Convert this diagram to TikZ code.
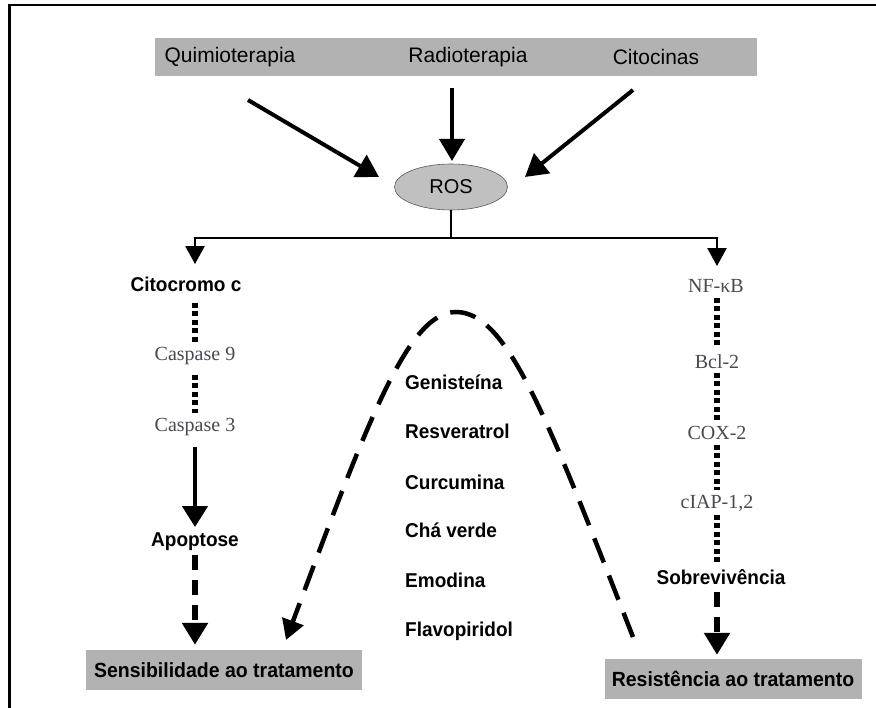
\documentclass[tikz,border=0pt]{standalone}
\usepackage{fontspec}
\setmainfont{Liberation Sans}
\newfontfamily\sansN[FakeStretch=0.95]{Liberation Sans}
\newfontfamily\serifx{Liberation Serif}
\usetikzlibrary{arrows.meta,shapes.geometric,calc}
\definecolor{barg}{RGB}{178,178,178}
\definecolor{rosg}{RGB}{192,192,192}
\definecolor{sertxt}{RGB}{72,72,82}
\begin{document}
\begin{tikzpicture}[x=1pt,y=-1pt,
  toplbl/.style={font=\fontsize{21}{24}\selectfont, inner sep=2pt},
  fixh/.style={text height=13.5pt, text depth=0pt, inner sep=0pt},
  sanslbl/.style={fixh, font=\sansN\fontsize{20}{23}\selectfont\bfseries},
  serlbl/.style={fixh, font=\fontsize{20}{23}\selectfont\serifx, text=sertxt},
  drug/.style={font=\sansN\fontsize{20}{23}\selectfont\bfseries, anchor=west, inner sep=0pt},
  greybox/.style={fill=barg, draw=none},
  toparrow/.style={line width=4pt, -{Triangle[length=22pt,width=25pt]}},
  forkline/.style={line width=2.5pt},
  forkarrow/.style={line width=2.5pt, -{Triangle[length=18pt,width=19pt]}},
  solidarrow/.style={line width=4.5pt, -{Triangle[length=21pt,width=25pt]}},
  dasharrow/.style={line width=6pt, dash pattern=on 15pt off 10pt, -{Triangle[length=22pt,width=25pt]}},
  dotline/.style={line width=6pt, dash pattern=on 5pt off 3.5pt},
  arcline/.style={line width=4.5pt, dash pattern=on 26pt off 14pt, -{Triangle[length=20pt,width=22pt]}}
]
\useasboundingbox (0,0) rectangle (876,708);
% frame
\draw[line width=2.8pt] (9.5,708) -- (9.5,5) -- (876,5);

% top bar
\node[greybox, minimum width=602pt, minimum height=38pt, inner sep=0pt] (topbar) at (456,57) {};
\node[toplbl] (quimio) at (230,57) {Quimioterapia};
\node[toplbl] (radio) at (468,57) {Radioterapia};
\node[toplbl] (citoc) at (656,57) {Citocinas};

% ROS
\node[ellipse, fill=rosg, draw=gray!70!black, line width=0.6pt, minimum width=113pt, minimum height=46pt, inner sep=0pt,
      font=\fontsize{20}{23}\selectfont] (ros) at (451,187) {ROS};

\coordinate (qa) at (248,100); \coordinate (qe) at (379,177);
\coordinate (ra) at (452,88);  \coordinate (re) at (452,161);
\coordinate (ca) at (633,90);  \coordinate (ce) at (525,177);
\draw[toparrow] (qa) -- (qe);
\draw[toparrow] (ra) -- (re);
\draw[toparrow] (ca) -- (ce);

% left column
\node[sanslbl] (cito) at (186,285) {Citocromo c};
\node[serlbl] (cas9) at (195,354) {Caspase 9};
\node[serlbl] (cas3) at (195,425) {Caspase 3};
\node[sanslbl] (apop) at (195,540) {Apoptose};
\node[greybox, minimum width=276pt, minimum height=40pt, inner sep=0pt,
      font=\sansN\fontsize{20.5}{23}\selectfont\bfseries] (sens) at (224,670) {Sensibilidade ao tratamento};

% right column
\node[serlbl] (nfkb) at (716,286) {NF-κB};
\node[serlbl] (bcl) at (717,362) {Bcl-2};
\node[serlbl] (cox) at (717,433) {COX-2};
\node[serlbl] (ciap) at (717,502) {cIAP-1,2};
\node[sanslbl] (sob) at (721,578) {Sobrevivência};
\node[greybox, minimum width=257pt, minimum height=40pt, inner sep=0pt,
      font=\sansN\fontsize{20.5}{23}\selectfont\bfseries] (res) at (733,679) {Resistência ao tratamento};

% fork
\coordinate (fork) at (451,238);
\draw[forkline] (ros.south) -- (fork);
\draw[forkarrow, shorten >=14pt] (fork) -| (cas9 |- cito.north);
\draw[forkarrow, shorten >=13pt] (fork) -| (bcl |- nfkb.north);

% left chain
\draw[dotline, shorten <=11pt, shorten >=5pt] (cas9 |- cito.south) -- (cas9.north);
\draw[dotline, shorten <=14pt, shorten >=5pt] (cas9.south) -- (cas3.north);
\draw[solidarrow, shorten <=15pt, shorten >=6pt] (cas3.south) -- (apop.north);
\draw[dasharrow, shorten <=8pt, shorten >=5pt] (apop.south) -- (cas9 |- sens.north);

% right chain
\draw[dotline, shorten <=5pt, shorten >=8pt] (bcl |- nfkb.south) -- (bcl.north);
\draw[dotline, shorten <=4pt, shorten >=6pt] (bcl.south) -- (cox.north);
\draw[dotline, shorten <=5pt, shorten >=5pt] (cox.south) -- (ciap.north);
\draw[dotline, shorten <=6pt, shorten >=6pt] (ciap.south) -- (bcl |- sob.north);
\draw[dasharrow, shorten <=7pt, shorten >=4pt] (bcl |- sob.south) -- (bcl |- res.north);

% compounds
\node[drug] (gen) at (405,382) {Genisteína};
\node[drug] (resv) at (405,431) {Resveratrol};
\node[drug] (curc) at (405,482) {Curcumina};
\node[drug] (cha) at (405,530) {Chá verde};
\node[drug] (emo) at (405,580) {Emodina};
\node[drug] (flav) at (405,631) {Flavopiridol};

% dashed arc
\coordinate (arcR) at (633,637);
\coordinate (arcTop) at (456,312);
\coordinate (arcL) at (286,640);
\draw[arcline] (arcR) .. controls (548,420) and (508,312) .. (arcTop)
   .. controls (408,312) and (368,420) .. (arcL);
\end{tikzpicture}
\end{document}
